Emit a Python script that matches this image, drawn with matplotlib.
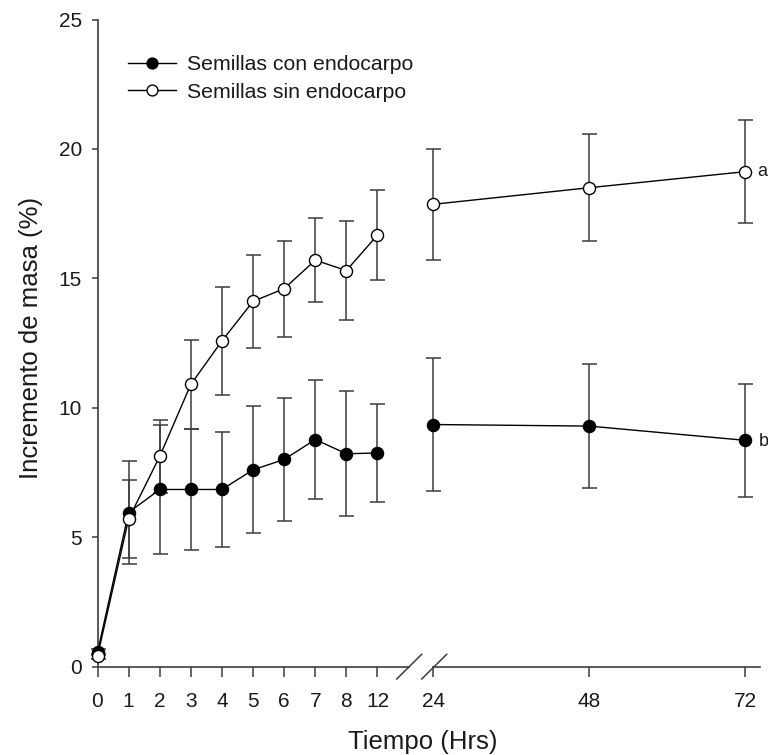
import matplotlib
matplotlib.use("Agg")
import matplotlib.pyplot as plt
from matplotlib.lines import Line2D

plt.rcParams['font.family'] = ['Liberation Sans', 'DejaVu Sans']

# ---- data ----
left_hours = ["0", "1", "2", "3", "4", "5", "6", "7", "8", "12"]
con_left = [0.55, 5.95, 6.84, 6.84, 6.84, 7.60, 8.00, 8.77, 8.22, 8.25]
con_left_err = [0.12, 2.00, 2.50, 2.33, 2.22, 2.46, 2.38, 2.30, 2.41, 1.90]
sin_left = [0.40, 5.70, 8.12, 10.90, 12.58, 14.11, 14.60, 15.70, 15.30, 16.67]
sin_left_err = [0.10, 1.49, 1.40, 1.71, 2.07, 1.79, 1.85, 1.63, 1.93, 1.73]

right_hours = [24, 48, 72]
con_right = [9.35, 9.29, 8.74]
con_right_err = [2.58, 2.41, 2.19]
sin_right = [17.86, 18.50, 19.12]
sin_right_err = [2.14, 2.07, 2.00]

y_ticks = [0, 5, 10, 15, 20, 25]
sig_letters = ["b", "a"]  # con, sin

W, H = 768, 755
fig = plt.figure(figsize=(W / 100, H / 100), dpi=100)

def fx(px):
    return px / W

def fy(py):
    return 1 - py / H

y_top, y_bot = 19.5, 666.5
x_l0, x_l1 = 97.5, 409.0
x_r0, x_r1 = 433.3, 760.0
step = (377.0 - 97.0) / 9.0
xlim_left = (x_l1 - x_l0) / step

axL = fig.add_axes([fx(x_l0), fy(y_bot), fx(x_l1 - x_l0), (y_bot - y_top) / H])
axR = fig.add_axes([fx(x_r0), fy(y_bot), fx(x_r1 - x_r0), (y_bot - y_top) / H])

spine_c = '#3c3c3c'
err_c = '#3c3c3c'
txt_c = '#1a1a1a'
ms = 8.7
capsize = 5.4
tick_fs = 15

idx = list(range(len(left_hours)))

for ax, xs, con, cerr, sin, serr in [
    (axL, idx, con_left, con_left_err, sin_left, sin_left_err),
    (axR, right_hours, con_right, con_right_err, sin_right, sin_right_err),
]:
    ax.errorbar(xs, con, yerr=cerr, fmt='none', ecolor=err_c, elinewidth=1.1,
                capsize=capsize, capthick=1.1, clip_on=False, zorder=2)
    ax.errorbar(xs, sin, yerr=serr, fmt='none', ecolor=err_c, elinewidth=1.1,
                capsize=capsize, capthick=1.1, clip_on=False, zorder=2)
    ax.plot(xs, con, color='black', lw=1.0, marker='o', ms=ms, mfc='black',
            mec='black', mew=1.0, clip_on=False, zorder=3,
            label='Semillas con endocarpo')
    ax.plot(xs, sin, color='black', lw=1.0, marker='o', ms=ms, mfc='white',
            mec='black', mew=1.0, clip_on=False, zorder=4,
            label='Semillas sin endocarpo')
    ax.set_ylim(0, 25)
    ax.spines['top'].set_visible(False)
    ax.spines['right'].set_visible(False)
    for s in ax.spines.values():
        s.set_color(spine_c)
        s.set_linewidth(1.2)
    ax.tick_params(axis='x', direction='out', length=7.2, width=1.1,
                   color=spine_c, pad=11, labelsize=tick_fs, labelcolor=txt_c)
    ax.patch.set_alpha(0)

axL.set_xlim(0, xlim_left)
axL.set_xticks(idx)
axL.set_xticklabels(left_hours)
axL.set_yticks(y_ticks)
axL.set_yticklabels([str(v) for v in y_ticks])
axL.tick_params(axis='y', direction='out', length=4.3, width=1.1,
                color=spine_c, pad=7, labelsize=tick_fs, labelcolor=txt_c)

axR.set_xlim(24, 24 + (x_r1 - x_r0) / ((745.0 - 433.3) / 48.0))
axR.set_xticks(right_hours)
axR.set_xticklabels([str(h) for h in right_hours])
axR.spines['left'].set_visible(False)
axR.set_yticks([])

# significance letters
axR.annotate(sig_letters[0], (right_hours[-1], con_right[-1]), xytext=(10, -1),
             textcoords='offset points', ha='left', va='center', fontsize=13,
             color=txt_c, annotation_clip=False)
axR.annotate(sig_letters[1], (right_hours[-1], sin_right[-1]), xytext=(8.5, 0),
             textcoords='offset points', ha='left', va='center', fontsize=13,
             color=txt_c, annotation_clip=False)

# axis labels
fig.text(fx(423), fy(730), 'Tiempo (Hrs)', ha='center', va='top',
         fontsize=18.5, color=txt_c)
fig.text(fx(31), fy(338), 'Incremento de masa (%)', ha='center', va='center',
         rotation=90, fontsize=18.5, color=txt_c)

# axis break marks
for (x1, y1, x2, y2) in [(396.7, 679, 421.7, 654.3), (421.7, 679, 446.7, 654.3)]:
    fig.add_artist(Line2D([fx(x1), fx(x2)], [fy(y1), fy(y2)],
                          transform=fig.transFigure, color=spine_c, lw=1.1))

# legend
handles, labels = axL.get_legend_handles_labels()
leg = fig.legend(handles, labels, loc='upper left',
                 bbox_to_anchor=(fx(128), fy(55)), bbox_transform=fig.transFigure,
                 frameon=False, fontsize=15.3, handlelength=2.26,
                 handletextpad=0.52, labelspacing=0.4, borderpad=0,
                 borderaxespad=0, numpoints=1, markerscale=0.9)
for t in leg.get_texts():
    t.set_color(txt_c)

fig.savefig('out.png', dpi=100)
